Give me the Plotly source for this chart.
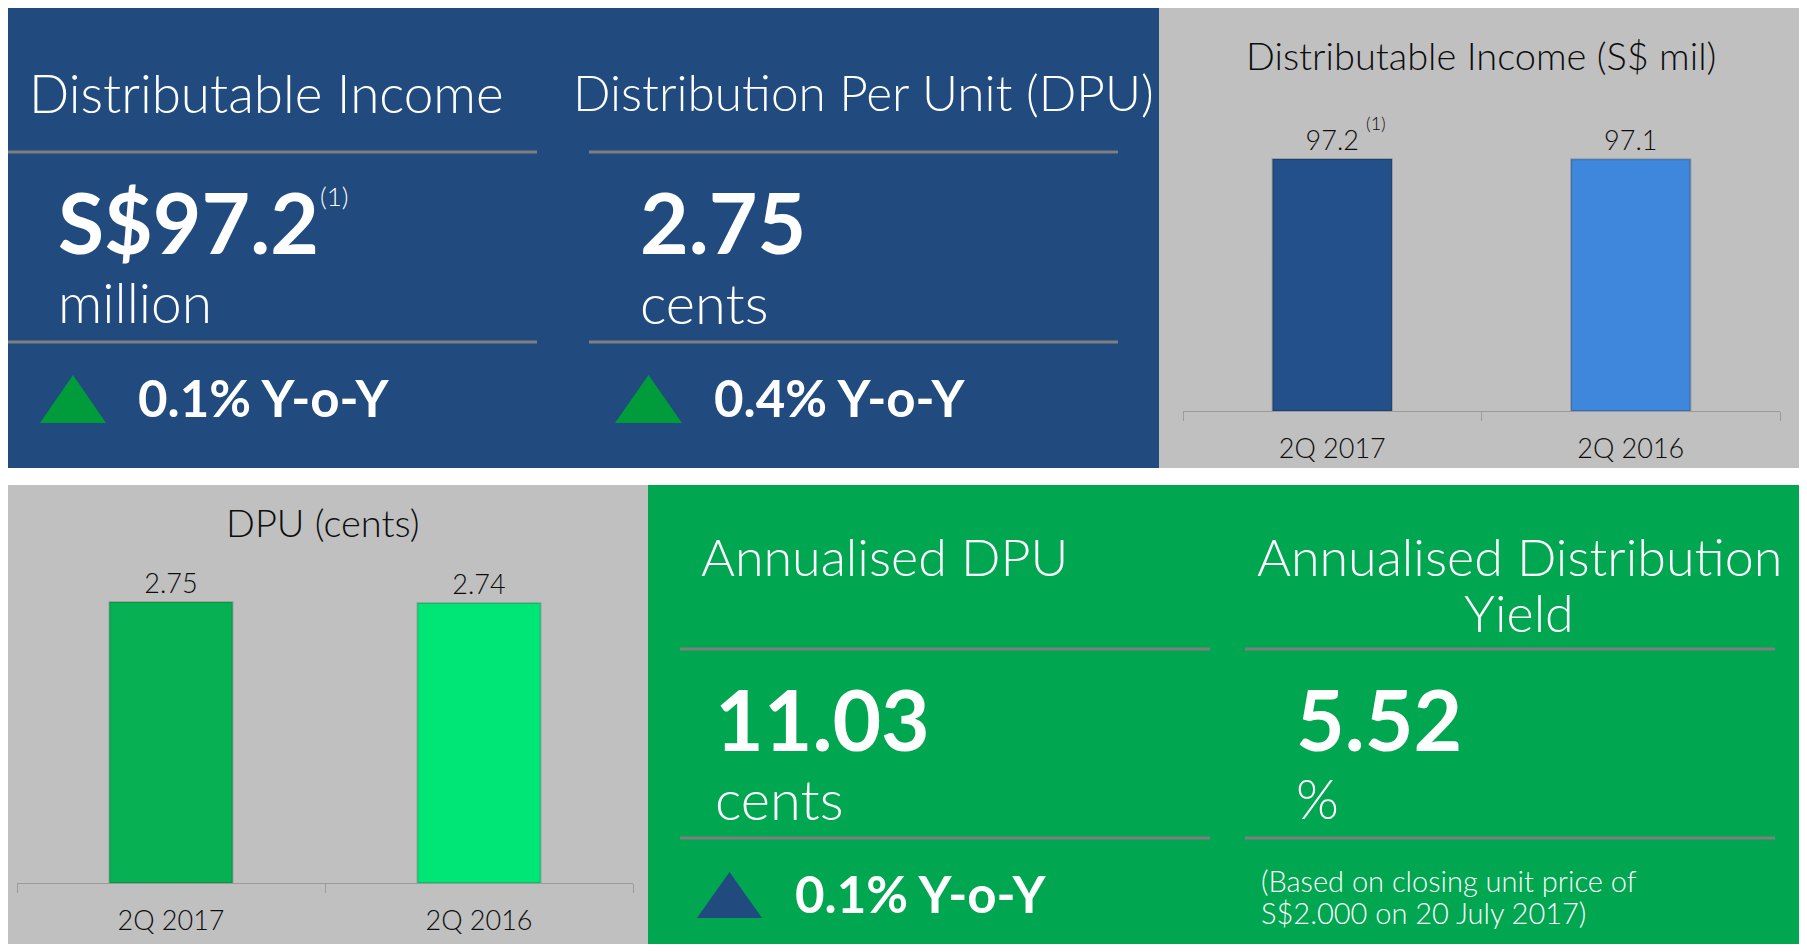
import plotly.graph_objects as go

W, H = 1807, 952
PAD = 8  # page margin around the plot div

quarters = ["2Q 2017", "2Q 2016"]
income_mil = [97.2, 97.1]
dpu_cents = [2.75, 2.74]
income_colors = ["#23508a", "#3f87dc"]
dpu_colors = ["#07b052", "#00e676"]

headline_income = "S$97.2"
headline_dpu = "2.75"
income_yoy = "0.1% Y-o-Y"
dpu_yoy = "0.4% Y-o-Y"
annual_dpu = "11.03"
annual_dpu_yoy = "0.1% Y-o-Y"
annual_yield = "5.52"

BLUE = "#214b7e"
GREEN = "#00a650"
GRAY = "#c0c0c0"
RULE = "#7f7f7f"
INK = "#0d0d0d"
FONT = "Lato"

FW, FH = W - 2 * PAD, H - 2 * PAD


def px(x):
    return (x - PAD) / FW


def py(y):
    return 1 - (y - PAD) / FH


fig = go.Figure()

fig.add_trace(go.Bar(
    x=quarters, y=income_mil, xaxis="x", yaxis="y",
    marker=dict(color=income_colors, line=dict(color="rgba(0,0,0,0.18)", width=2)),
    text=[f"{v:.1f}" for v in income_mil], textposition="outside",
    textfont=dict(family=FONT, size=27, color=INK, weight=300),
    cliponaxis=False, showlegend=False,
))
fig.add_trace(go.Bar(
    x=quarters, y=dpu_cents, xaxis="x2", yaxis="y2",
    marker=dict(color=dpu_colors, line=dict(color="rgba(0,0,0,0.15)", width=2)),
    text=[f"{v:.2f}" for v in dpu_cents], textposition="outside",
    textfont=dict(family=FONT, size=27, color=INK, weight=300),
    cliponaxis=False, showlegend=False,
))

shapes = []


def rect(x0, y0, x1, y1, color):
    shapes.append(dict(type="rect", xref="paper", yref="paper", layer="below",
                       x0=px(x0), x1=px(x1), y0=py(y1), y1=py(y0),
                       fillcolor=color, line=dict(width=0)))


def rule(x0, x1, y):
    shapes.append(dict(type="line", xref="paper", yref="paper",
                       x0=px(x0), x1=px(x1), y0=py(y), y1=py(y),
                       line=dict(color=RULE, width=3)))


def triangle(x0, x1, y_base, y_top, color):
    xm = (x0 + x1) / 2
    path = (f"M {px(x0)} {py(y_base)} L {px(x1)} {py(y_base)} "
            f"L {px(xm)} {py(y_top)} Z")
    shapes.append(dict(type="path", xref="paper", yref="paper", path=path,
                       fillcolor=color, line=dict(width=0)))


rect(8, 6, 1159, 468, BLUE)
rect(1159, 6, 1800, 468, GRAY)
rect(8, 485, 648, 950, GRAY)
rect(648, 485, 1800, 950, GREEN)

for y in (152, 342):
    rule(8, 537, y)
    rule(589, 1118, y)
for y in (649, 838):
    rule(680, 1210, y)
    rule(1245, 1775, y)

triangle(40, 106, 423, 375, "#009c3b")
triangle(615, 682, 423, 375, "#009c3b")
triangle(697, 762, 918, 872, "#214b7e")

annotations = []


def label(x, y, text, size, weight=400, anchor="left", color="white", align="left"):
    annotations.append(dict(xref="paper", yref="paper", x=px(x), y=py(y),
                            text=text, showarrow=False, xanchor=anchor,
                            yanchor="middle", align=align,
                            font=dict(family=FONT, size=size, color=color, weight=weight)))


label(27, 92, "Distributable Income", 53, 300)
label(571, 92, "Distribution Per Unit (DPU)", 49.5, 300)
label(56, 222, headline_income, 84, 700)
label(318, 196, "(1)", 26, 300)
label(56, 302, "million", 55, 300)
label(136, 397, income_yoy, 51, 700)
label(638, 222, headline_dpu, 84, 700)
label(638, 302, "cents", 56, 300)
label(712, 397, dpu_yoy, 51, 700)

label(699, 556, "Annualised DPU", 52, 300)
label(1519, 556, "Annualised Distribution", 52, 300, anchor="center")
label(1519, 612, "Yield", 52, 300, anchor="center")
label(713, 718, annual_dpu, 84, 700)
label(713, 798, "cents", 56, 300)
label(793, 893, annual_dpu_yoy, 51, 700)
label(1294, 718, annual_yield, 84, 700)
label(1294, 798, "%", 55, 300)
label(1259, 880, "(Based on closing unit price of", 29, 300)
label(1259, 912, "S$2.000 on 20 July 2017)", 29, 300)

label(1481, 55, "Distributable Income (S$ mil)", 38, 300, anchor="center", color=INK)
label(323, 522, "DPU (cents)", 38, 300, anchor="center", color=INK)

annotations.append(dict(xref="x", yref="y", x=quarters[0], y=income_mil[0],
                        text="(1)", showarrow=False, xshift=44, yshift=36,
                        font=dict(family=FONT, size=18, color=INK, weight=300)))

axis_common = dict(
    type="category", showline=True, linecolor="#9a9a9a", linewidth=1,
    ticks="outside", tickson="boundaries", ticklen=9, tickcolor="#9a9a9a",
    ticklabelstandoff=14,
    showgrid=False, zeroline=False,
    tickfont=dict(family=FONT, size=27, color=INK, weight=300),
)
yaxis_common = dict(visible=False, showgrid=False, zeroline=False, fixedrange=True)

fig.update_layout(
    width=FW, height=FH,
    margin=dict(l=0, r=0, t=0, b=0),
    paper_bgcolor="white", plot_bgcolor="rgba(0,0,0,0)",
    bargap=0.6,
    shapes=shapes, annotations=annotations,
    xaxis=dict(domain=[px(1183), px(1780)], anchor="y", **axis_common),
    yaxis=dict(domain=[py(411), py(151.7)], range=[0, 100], anchor="x", **yaxis_common),
    xaxis2=dict(domain=[px(17), px(633)], anchor="y2", **axis_common),
    yaxis2=dict(domain=[py(883), py(576.5)], range=[0, 3], anchor="x2", **yaxis_common),
)

fig.write_html("out.html")
